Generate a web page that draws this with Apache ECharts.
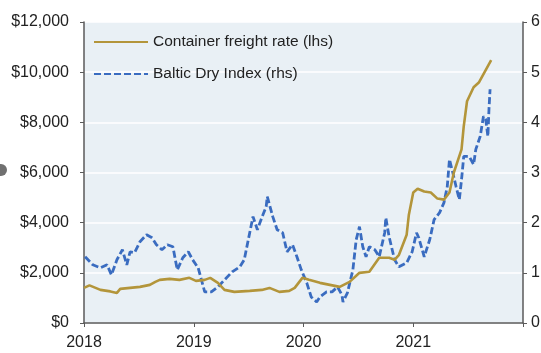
<!DOCTYPE html>
<html>
<head>
<meta charset="utf-8">
<script src="https://cdn.jsdelivr.net/npm/echarts@6/dist/echarts.min.js"></script>
<style>
  html, body { margin: 0; padding: 0; background: #fff; }
  #chart { width: 541px; height: 353px; }
</style>
</head>
<body>
<div id="chart"></div>
<script>
// container freight rate, USD per 40ft box (lhs), by decimal year
var freightYears = [2018.00, 2018.05, 2018.15, 2018.24, 2018.30, 2018.33, 2018.42, 2018.51, 2018.60, 2018.65,
  2018.69, 2018.78, 2018.87, 2018.96, 2019.02, 2019.10, 2019.15, 2019.22, 2019.28, 2019.37,
  2019.51, 2019.62, 2019.69, 2019.78, 2019.87, 2019.92, 2019.99, 2020.05, 2020.15, 2020.24,
  2020.33, 2020.42, 2020.51, 2020.60, 2020.69, 2020.78, 2020.83, 2020.87, 2020.94, 2020.96,
  2021.00, 2021.04, 2021.10, 2021.16, 2021.22, 2021.28, 2021.33, 2021.37, 2021.44, 2021.46,
  2021.49, 2021.55, 2021.60, 2021.65, 2021.71];
var freightRate = [1400, 1500, 1320, 1260, 1200, 1360, 1400, 1440, 1520, 1640,
  1720, 1760, 1720, 1800, 1680, 1720, 1800, 1600, 1320, 1240,
  1280, 1320, 1400, 1240, 1280, 1400, 1800, 1720, 1600, 1520,
  1440, 1640, 2000, 2040, 2600, 2600, 2520, 2720, 3520, 4320,
  5200, 5350, 5240, 5200, 4960, 4920, 5200, 6000, 6920, 7840,
  8840, 9400, 9600, 10000, 10480];

// Baltic Dry Index (rhs)
var bdiYears = [2018.01, 2018.08, 2018.15, 2018.21, 2018.25, 2018.30, 2018.35, 2018.39, 2018.42, 2018.46,
  2018.51, 2018.57, 2018.62, 2018.66, 2018.71, 2018.76, 2018.81, 2018.85, 2018.90, 2018.95,
  2018.99, 2019.04, 2019.07, 2019.10, 2019.16, 2019.22, 2019.28, 2019.35, 2019.42, 2019.46,
  2019.51, 2019.54, 2019.58, 2019.62, 2019.66, 2019.67, 2019.72, 2019.76, 2019.81, 2019.85,
  2019.90, 2019.94, 2019.98, 2020.03, 2020.07, 2020.12, 2020.15, 2020.21, 2020.26, 2020.31,
  2020.35, 2020.36, 2020.40, 2020.45, 2020.48, 2020.51, 2020.54, 2020.57, 2020.60, 2020.65,
  2020.69, 2020.74, 2020.75, 2020.78, 2020.83, 2020.87, 2020.94, 2020.99, 2021.03, 2021.05,
  2021.10, 2021.15, 2021.19, 2021.24, 2021.28, 2021.31, 2021.33, 2021.36, 2021.39, 2021.42,
  2021.44, 2021.46, 2021.51, 2021.55, 2021.57, 2021.61, 2021.64, 2021.66, 2021.68, 2021.69,
  2021.70];
var bdiIndex = [1320, 1160, 1100, 1160, 960, 1260, 1460, 1160, 1420, 1400,
  1620, 1760, 1700, 1560, 1460, 1560, 1520, 1060, 1300, 1420,
  1260, 1100, 860, 620, 620, 720, 860, 1020, 1120, 1260,
  1800, 2120, 1860, 2100, 2320, 2520, 2120, 1860, 1800, 1420,
  1560, 1320, 1060, 800, 520, 420, 520, 620, 620, 720,
  560, 420, 600, 1060, 1660, 1920, 1520, 1320, 1520, 1460,
  1320, 1800, 2100, 1720, 1260, 1120, 1200, 1420, 1800, 1700,
  1320, 1660, 2060, 2200, 2400, 2720, 3260, 3000, 2720, 2460,
  2860, 3320, 3320, 3160, 3460, 3720, 4120, 4060, 3720, 4260,
  4660];

var xTicks = [2018, 2019, 2020, 2021];

function pairs(xs, ys) {
    return xs.map(function (x, i) { return [x, ys[i]]; });
}

var myChart = echarts.init(document.getElementById('chart'));
var textColor = '#222';
var axisColor = '#5a5a5a';
var font = 'Liberation Sans, Arial, sans-serif';

var option = {
    animation: false,
    textStyle: { fontFamily: font },
    grid: {
        left: 84,
        right: 18,
        top: 22,
        bottom: 30,
        outerBoundsMode: 'none',
        containLabel: false,
        show: true,
        backgroundColor: '#e9f0f5',
        borderWidth: 0
    },
    legend: {
        orient: 'vertical',
        left: 88,
        top: 29,
        itemWidth: 54,
        itemHeight: 14,
        itemGap: 16,
        itemStyle: { opacity: 0, borderWidth: 0 },
        textStyle: { fontSize: 15.5, color: textColor, fontFamily: font },
        data: ['Container freight rate (lhs)', 'Baltic Dry Index (rhs)']
    },
    graphic: [
        { type: 'text', left: 10, top: -11, style: { text: 'USD / 40ft box', fontSize: 14, fill: textColor, fontFamily: font } },
        { type: 'text', left: 533, top: -11, style: { text: 'Index', fontSize: 14, fill: textColor, fontFamily: font } },
        { type: 'circle', shape: { cx: 1, cy: 170, r: 6 }, style: { fill: '#707070' } }
    ],
    xAxis: {
        type: 'value',
        min: 2018,
        max: 2022,
        interval: 1,
        axisLine: { show: true, lineStyle: { color: axisColor, width: 1.5 } },
        axisTick: { show: true, inside: false, length: 4, lineStyle: { color: axisColor } },
        splitLine: { show: false },
        axisLabel: {
            margin: 12,
            fontSize: 16,
            color: textColor,
            formatter: function (v) { return xTicks.indexOf(v) >= 0 ? String(v) : ''; }
        }
    },
    yAxis: [
        {
            type: 'value',
            min: 0,
            max: 12000,
            interval: 2000,
            axisLine: { show: true, lineStyle: { color: axisColor, width: 1.5 } },
            axisTick: { show: true, length: 4, lineStyle: { color: axisColor } },
            splitLine: { show: true, lineStyle: { color: '#ffffff', width: 1.5 } },
            axisLabel: {
                margin: 15,
                fontSize: 16,
                color: textColor,
                formatter: function (v) { return '$' + v.toLocaleString('en-US'); }
            }
        },
        {
            type: 'value',
            min: 0,
            max: 6000,
            interval: 1000,
            position: 'right',
            axisLine: { show: true, lineStyle: { color: axisColor, width: 1.5 } },
            axisTick: { show: true, length: 4, lineStyle: { color: axisColor } },
            splitLine: { show: false },
            axisLabel: {
                margin: 8,
                fontSize: 16,
                color: textColor,
                formatter: function (v) { return v.toLocaleString('en-US'); }
            }
        }
    ],
    series: [
        {
            name: 'Container freight rate (lhs)',
            type: 'line',
            yAxisIndex: 0,
            symbol: 'none',
            z: 3,
            lineStyle: { color: '#b3953a', width: 2.6 },
            itemStyle: { color: '#b3953a' },
            data: pairs(freightYears, freightRate)
        },
        {
            name: 'Baltic Dry Index (rhs)',
            type: 'line',
            yAxisIndex: 1,
            symbol: 'none',
            z: 2,
            lineStyle: { color: '#3a6cc0', width: 2.8, type: [7, 3] },
            itemStyle: { color: '#3a6cc0' },
            data: pairs(bdiYears, bdiIndex)
        }
    ]
};
myChart.setOption(option);
window.addEventListener('resize', function () { myChart.resize(); });
</script>
</body>
</html>
